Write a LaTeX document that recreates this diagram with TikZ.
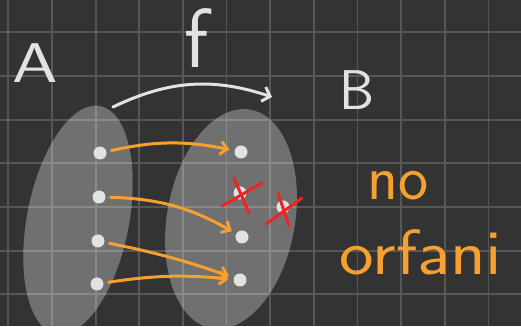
\documentclass[tikz,border=0pt]{standalone}
\usetikzlibrary{arrows.meta,shapes.geometric}
\definecolor{boardbg}{HTML}{333333}
\definecolor{boardgrid}{HTML}{575757}
\definecolor{chalk}{HTML}{E2E2E2}
\definecolor{maporange}{HTML}{F5A030}
\definecolor{crossred}{HTML}{EE2424}
\tikzset{
  blob/.style={ellipse, fill=white, fill opacity=0.3, inner sep=0},
  elem/.style={circle, fill=chalk, inner sep=0, minimum size=13},
  maparrow/.style={draw=maporange, line width=3pt, line cap=round, -{Straight Barb[length=7pt,width=13pt]}, shorten >=5pt, shorten <=5pt},
  funarrow/.style={draw=chalk, line width=3pt, line cap=round, -{Straight Barb[length=7pt,width=15pt]}},
  crossline/.style={draw=crossred, line width=3pt, line cap=round},
  bigletter/.style={text=chalk, font=\sffamily\fontsize{56}{56}\selectfont, inner sep=0},
  note/.style={text=maporange, font=\sffamily\fontsize{64}{64}\selectfont, inner sep=0}
}
\begin{document}
\begin{tikzpicture}[x=1pt, y=1pt]
    % Fond et quadrillage
    \fill[boardbg] (0,0) rectangle (521,326);
    \useasboundingbox (0,0) rectangle (521,326);
    \foreach \k in {0,...,11} \draw[boardgrid, line width=1.8pt] (8.3+43.65*\k,0) -- (8.3+43.65*\k,326);
    \foreach \k in {0,...,6} \draw[boardgrid, line width=1.8pt] (0,31.7+43.65*\k) -- (521,31.7+43.65*\k);

    % Ensembles
    \node[blob, minimum width=102, minimum height=232, rotate=-11] (setA) at (78,106) {};
    \node[blob, minimum width=128, minimum height=222, rotate=-10] (setB) at (231,107) {};

    % Elements de A
    \node[elem] (a1) at (100,173) {};
    \node[elem] (a2) at (99,129) {};
    \node[elem] (a3) at (98,85) {};
    \node[elem] (a4) at (97,42) {};

    % Elements de B
    \node[elem] (b1) at (241,174) {};
    \node[elem] (b2) at (240,133) {};
    \node[elem] (b3) at (283,119) {};
    \node[elem] (b4) at (242,89) {};
    \node[elem] (b5) at (240,46) {};

    % Lettres
    \node[bigletter] (nameA) at (35,263) {\scalebox{1.3}[1]{A}};
    \node[bigletter, font=\sffamily\fontsize{84}{84}\selectfont] (nameF) at (197,288) {f};
    \node[bigletter] (nameB) at (357,236) {B};
    \node[note] (no) at (398,140) {no};
    \node[note] (orfani) at (421,74) {\scalebox{1.15}[1]{orfani}};

    % Fleche de f
    \coordinate (fstart) at (113,219);
    \coordinate (fend) at (272,229);
    \draw[funarrow] (fstart) to[bend left=22] (fend);

    % Applications
    \draw[maparrow] (a1) to[bend left=12] (b1);
    \draw[maparrow] (a2) to[bend left=14] (b4);
    \draw[maparrow] (a3) to[bend left=4] (b5);
    \draw[maparrow] (a4) to[bend left=7] (b5);

    % Elements orphelins
    \draw[crossline] ([shift={(-18,-13)}]b2.center) -- ([shift={(22,10)}]b2.center);
    \draw[crossline] ([shift={(-6,15)}]b2.center) -- ([shift={(9,-20)}]b2.center);
    \draw[crossline] ([shift={(-17,-17)}]b3.center) -- ([shift={(19,9)}]b3.center);
    \draw[crossline] ([shift={(-5,14)}]b3.center) -- ([shift={(6,-19)}]b3.center);
\end{tikzpicture}
\end{document}
